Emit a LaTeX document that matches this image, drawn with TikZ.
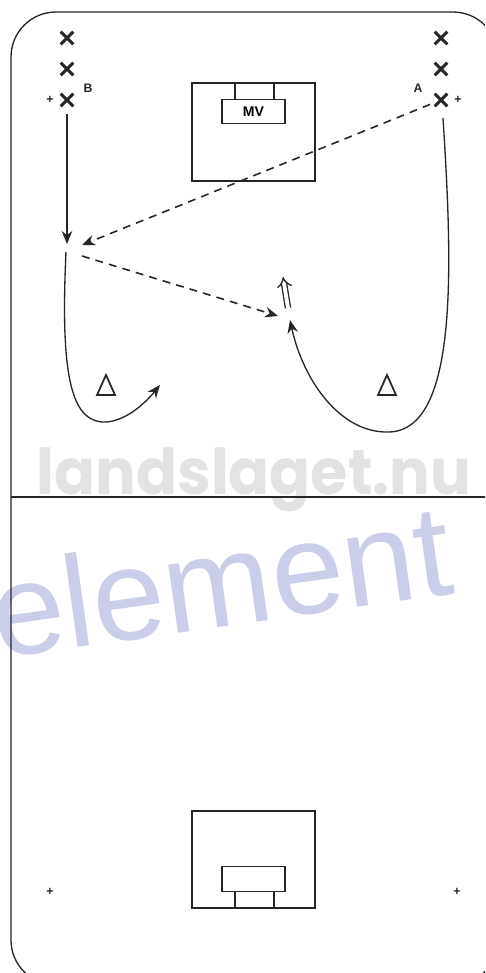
\documentclass[tikz,border=0pt]{standalone}
\usepackage{fontspec}
\setsansfont{Liberation Sans}
\newfontfamily\brandfont{Poppins}
\newfontfamily\stampfont{Liberation Sans}
\usetikzlibrary{arrows.meta,calc,shapes.misc}
\definecolor{pitch}{HTML}{262626}
\definecolor{brandgrey}{HTML}{E3E3E3}
\definecolor{stampblue}{HTML}{CACEE8}
\tikzset{
    drill diagram/.style = {x=0.02cm, y=-0.02cm,
                            >={Stealth[length=2.6mm, width=2.1mm]}},
    line/.style          = {draw=pitch, line width=0.75pt},
    run/.style           = {line, ->},
    pass/.style          = {line, ->, line width=0.9pt,
                            dash pattern=on 4.5pt off 3.5pt},
    player/.style        = {cross out, draw=pitch, line width=1.8pt,
                            minimum size=1.9mm, inner sep=0pt},
    tag/.style           = {font=\sffamily\bfseries\scriptsize, text=pitch,
                            inner sep=0pt},
    spot/.style          = {font=\sffamily\bfseries\scriptsize, text=pitch,
                            inner sep=0pt},
    goal/.style          = {draw=pitch, line width=0.8pt, inner sep=0pt,
                            minimum width=1.26cm, minimum height=0.49cm,
                            font=\sffamily\bfseries\footnotesize},
    pics/cone/.style     = {code={
        \draw[line, line width=1pt] (-9,10) -- (0,-10) -- (9,10) -- cycle;}}
}

\begin{document}
\begin{tikzpicture}[drill diagram]

\useasboundingbox (0,0) rectangle (485,973);
\clip (0,0) rectangle (485,973);
\fill[white] (0,0) rectangle (485,973);

% Watermarks sit under the pitch lines
\node[text=brandgrey, font=\brandfont\bfseries\fontsize{36}{36}\selectfont,
      xscale=0.955, anchor=base] (brand) at (254,494) {landslaget.nu};
\node[text=stampblue, font=\stampfont\fontsize{74}{74}\selectfont,
      rotate=8, anchor=base west] (stamp) at (-8,659) {element};

% Pitch: outline, halfway line, goal areas
\draw[line, rounded corners=0.9cm] (11,12) rectangle (498,985);
\draw[line] (11,497) -- (498,497);

\draw[line] (192,83) rectangle (315,181);
\node[goal] (topgoal) at (253.5,111.5) {MV};
\foreach \x in {235,274}
    \draw[line] (\x,83) -- (\x,99);

\draw[line] (192,811) rectangle (315,908);
\node[goal] (botgoal) at (253.5,879) {};
\foreach \x in {235,274}
    \draw[line] (\x,891) -- (\x,908);

% Queues of players, B on the left and A on the right
\foreach \i/\y in {1/38, 2/69, 3/100} {
    \node[player] (B\i) at (67,\y) {};
    \node[player] (A\i) at (441,\y) {};
}
\node[tag] (labB) at (88,88) {B};
\node[tag] (labA) at (418,88) {A};

% Small markers
\node[spot] (plusB) at (50,100) {+};
\node[spot] (plusA) at (458,100) {+};
\node[spot] (plusL) at (50,892) {+};
\node[spot] (plusR) at (457,892) {+};

% Cones
\pic at (106,385) {cone};
\pic at (387,385) {cone};

% Runs and passes
\coordinate (Bstop) at (67,244);
\coordinate (Brecv) at (82,245);
\coordinate (Bpass) at (82,256);
\coordinate (Bturn) at (66,252);
\coordinate (Bend)  at (160,385);
\coordinate (Aturn) at (443,118);
\coordinate (shot)  at (278,316);
\coordinate (Aend)  at (290,320);

\draw[run, shorten <=1.6mm] (B3) -- (Bstop);
\draw[pass, shorten <=1mm] (A3) -- (Brecv);
\draw[pass] (Bpass) -- (shot);

\draw[run] (Bturn) .. controls (60,380) and (72,424) .. (107,422)
                   .. controls (128,420) and (147,401) .. (Bend);
\draw[run] (Aturn) .. controls (452,260) and (460,432) .. (388,432)
                   .. controls (340,433) and (303,380) .. (Aend);

% Shot at goal
\coordinate (cuefrom) at (288,308);
\coordinate (cueto)   at (283,277);
\draw[line, double, double distance=2.2pt, -{Implies}] (cuefrom) -- (cueto);

\end{tikzpicture}
\end{document}
